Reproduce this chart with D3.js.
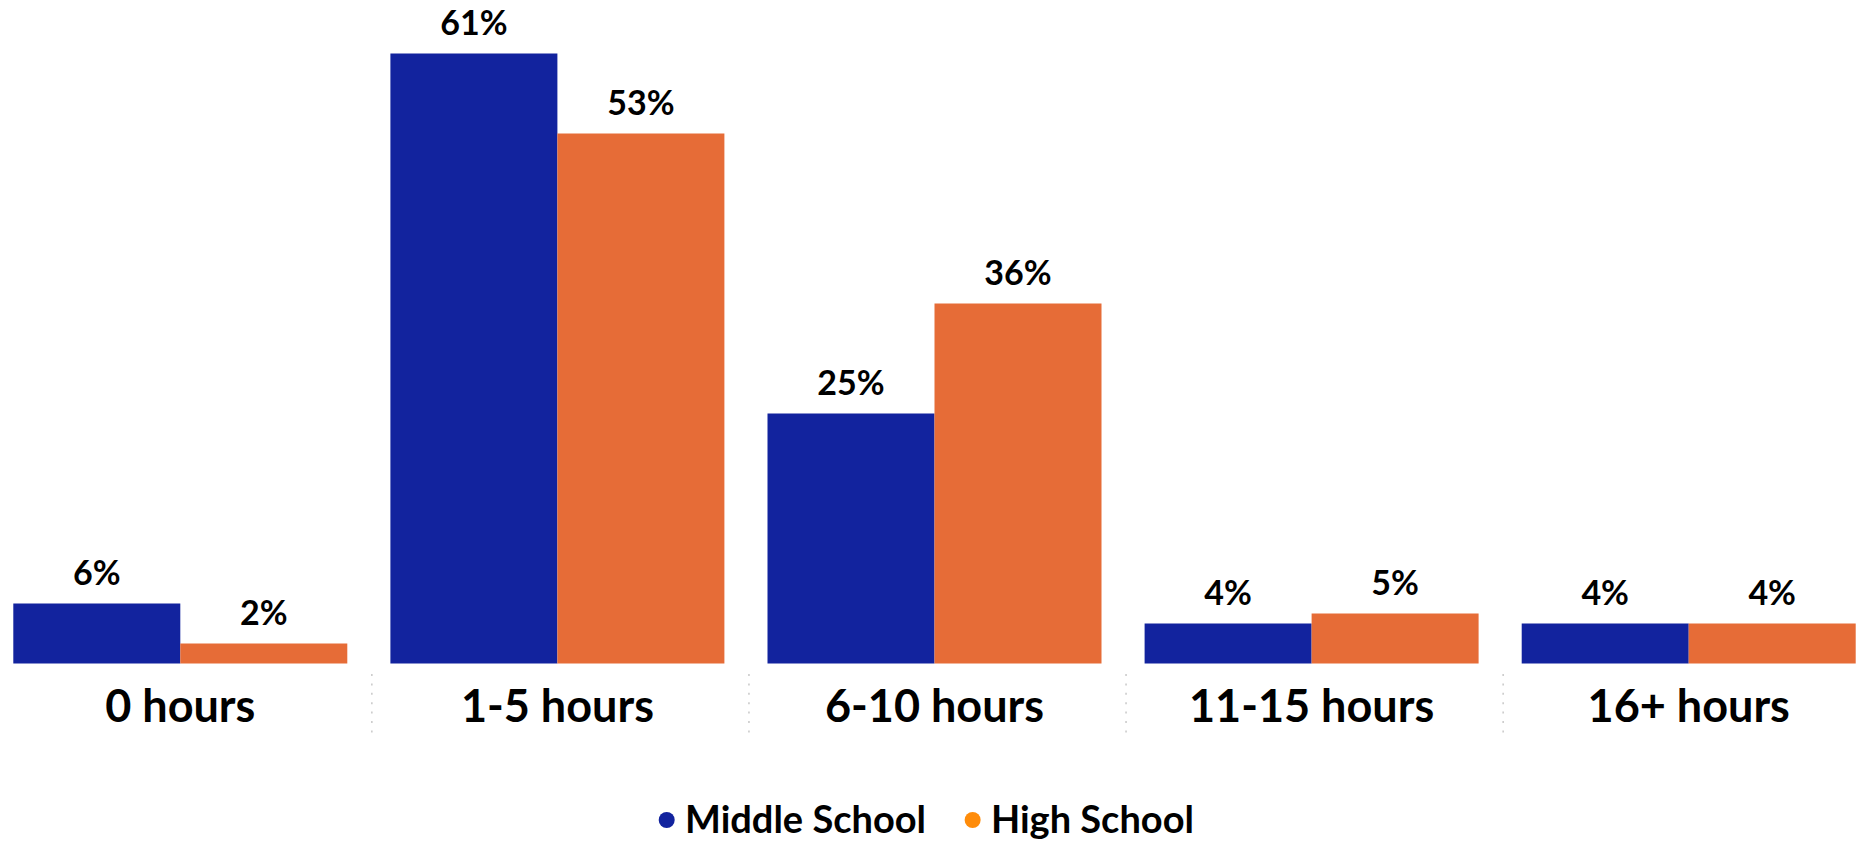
<!DOCTYPE html>
<html>
<head>
<meta charset="utf-8">
<script src="https://cdn.jsdelivr.net/npm/d3@7"></script>
<style>
  html, body { margin: 0; padding: 0; background: #fff; }
  svg { display: block; }
  text { font-family: Lato, "Open Sans", sans-serif; font-weight: 700; fill: #000; }
</style>
</head>
<body>
<svg id="chart" width="1861" height="841"></svg>
<script>
const categories = ["0 hours", "1-5 hours", "6-10 hours", "11-15 hours", "16+ hours"];
const seriesNames = ["Middle School", "High School"];
const middleSchool = [6, 61, 25, 4, 4];
const highSchool = [2, 53, 36, 5, 4];
const barColors = ["#12239E", "#E66C37"];
const legendColors = ["#12239E", "#FF8C0A"];

const svg = d3.select("#chart");

const x = d3.scaleBand().domain(categories).range([13.3, 1855.7]).paddingInner(0.1143).paddingOuter(0);
const xs = d3.scaleBand().domain(seriesNames).range([0, x.bandwidth()]).padding(0);
const y = d3.scaleLinear().domain([0, 61]).range([663.5, 53.5]);

const data = categories.map((c, i) => ({
  cat: c,
  values: [
    { s: seriesNames[0], v: middleSchool[i], color: barColors[0] },
    { s: seriesNames[1], v: highSchool[i], color: barColors[1] }
  ]
}));

const g = svg.append("g");
const groups = g.selectAll("g.grp").data(data).join("g")
  .attr("class", "grp")
  .attr("transform", d => `translate(${x(d.cat)},0)`);

groups.selectAll("rect").data(d => d.values).join("rect")
  .attr("x", d => xs(d.s))
  .attr("y", d => y(d.v))
  .attr("width", xs.bandwidth())
  .attr("height", d => y(0) - y(d.v))
  .attr("fill", d => d.color);

groups.selectAll("text.val").data(d => d.values).join("text")
  .attr("class", "val")
  .attr("x", d => xs(d.s) + xs.bandwidth() / 2)
  .attr("y", d => y(d.v) - 18.5)
  .attr("text-anchor", "middle")
  .style("font-size", "34px")
  .text(d => d.v + "%");

// category axis labels
const xAxis = d3.axisBottom(x).tickSize(0).tickPadding(0);
const axisG = svg.append("g").call(xAxis);
axisG.select(".domain").remove();
axisG.selectAll(".tick text")
  .attr("y", 721.7)
  .attr("dy", null)
  .style("font-size", "45px")
  .style("font-family", "Lato, 'Open Sans', sans-serif")
  .style("font-weight", 700)
  .attr("fill", "#000");

// dotted separators between categories
const gap = x.step() - x.bandwidth();
svg.selectAll("line.sep").data(categories.slice(1)).join("line")
  .attr("class", "sep")
  .attr("x1", d => x(d) - gap / 2 + 3)
  .attr("x2", d => x(d) - gap / 2 + 3)
  .attr("y1", 674)
  .attr("y2", 733)
  .attr("stroke", "#c8c8c8")
  .attr("stroke-width", 1.5)
  .attr("stroke-dasharray", "2,7.4");

// legend
const legend = svg.append("g");
let lx = 666.7;
seriesNames.forEach((name, i) => {
  legend.append("circle").attr("cx", lx).attr("cy", 820).attr("r", 8).attr("fill", legendColors[i]);
  const t = legend.append("text")
    .attr("x", lx + 18.3)
    .attr("y", 833.3)
    .style("font-size", "38px")
    .text(name);
  const w = t.node().getComputedTextLength();
  lx = lx + 18.3 + w + 46.6;
});
</script>
</body>
</html>
